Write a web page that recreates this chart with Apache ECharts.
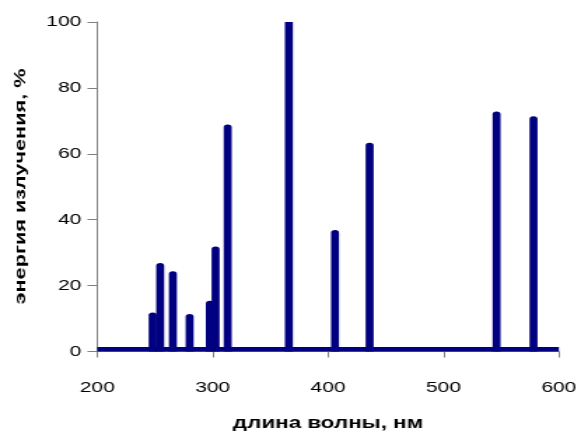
<!DOCTYPE html>
<html>
<head>
<meta charset="utf-8">
<script src="https://cdn.jsdelivr.net/npm/echarts@6/dist/echarts.min.js"></script>
<style>
html,body{margin:0;padding:0;background:#fff;}
#wrap{width:580px;height:432px;overflow:hidden;}
#chart{width:414px;height:432px;transform:scaleX(1.4);transform-origin:0 0;}
</style>
</head>
<body>
<div id="wrap"><div id="chart"></div></div>
<script>
// Wavelengths of spectral lines (nm) and their relative energy (%)
var wavelengths = [248, 254.5, 265.5, 280, 297.5, 302.5, 313, 366, 406, 436, 546, 578];
var energies    = [11, 26, 23.5, 10.5, 14.5, 31, 68, 100, 36, 62.5, 72, 70.5];
var xRange = [200, 600];
var xTicks = [200, 300, 400, 500, 600];
var yTicks = [0, 20, 40, 60, 80, 100];
var xTitle = 'длина волны, нм';
var yTitle = 'энергия излучения, %';

var spikeData = wavelengths.map(function (w, i) { return [w, energies[i]]; });
var baselineData = [[xRange[0], xRange[1]]];

var lineColor = '#000080';
var spikeW = 5.7;
var baseH = 4.5;
var stretch = 1.4;

var chart = echarts.init(document.getElementById('chart'), null, {renderer: 'canvas', width: 414, height: 432});
var axisColor = '#808080';
var font = 'Arial, "Liberation Sans", sans-serif';

function renderSpike(params, api) {
  var cs = params.coordSys;
  var x = api.value(0), v = api.value(1);
  var base = api.coord([x, 0]);
  var top = api.coord([x, v]);
  var r = spikeW / 2;
  var y0 = top[1] - r;
  var rr = [r, r, 0, 0];
  if (y0 < cs.y) { y0 = cs.y; rr = 0; }
  return {
    type: 'rect',
    shape: {x: base[0] - spikeW / 2, y: y0, width: spikeW, height: base[1] - y0, r: rr},
    style: {fill: lineColor}
  };
}
function renderBaseline(params, api) {
  var a = api.coord([api.value(0), 0]);
  var b = api.coord([api.value(1), 0]);
  return {
    type: 'rect',
    shape: {x: a[0], y: a[1] - baseH, width: b[0] - a[0], height: baseH},
    style: {fill: lineColor}
  };
}

chart.setOption({
  animation: false,
  backgroundColor: '#ffffff',
  grid: {left: 69.5, right: 14.8, top: 22, bottom: 80.5, containLabel: false, outerBoundsMode: 'none'},
  graphic: [{
    type: 'text',
    x: 14.6,
    y: 186.5,
    rotation: Math.PI / 2,
    scaleX: stretch,
    scaleY: 1 / stretch,
    style: {
      text: yTitle,
      font: 'bold 15.5px Arial, "Liberation Sans", sans-serif',
      fill: '#000',
      align: 'center',
      verticalAlign: 'middle',
      textAlign: 'center',
      textVerticalAlign: 'middle'
    }
  }],
  xAxis: {
    type: 'value',
    min: xTicks[0], max: xTicks[xTicks.length - 1], interval: 100,
    name: xTitle,
    nameLocation: 'middle',
    nameGap: 64,
    nameTextStyle: {fontFamily: font, fontSize: 16, fontWeight: 'bold', color: '#000'},
    axisLine: {show: true, lineStyle: {color: axisColor, width: 1}},
    axisTick: {show: true, length: 6, lineStyle: {color: axisColor}},
    axisLabel: {fontFamily: font, fontSize: 15, color: '#000', margin: 29},
    splitLine: {show: false}
  },
  yAxis: {
    type: 'value',
    min: yTicks[0], max: yTicks[yTicks.length - 1], interval: 20,
    axisLine: {show: true, lineStyle: {color: axisColor, width: 1}},
    axisTick: {show: true, length: 7, lineStyle: {color: axisColor}},
    axisLabel: {fontFamily: font, fontSize: 15, color: '#000', margin: 11.4},
    splitLine: {show: false}
  },
  series: [{
    type: 'custom',
    renderItem: renderBaseline,
    data: baselineData,
    encode: {x: [0, 1]},
    z: 3
  }, {
    type: 'custom',
    renderItem: renderSpike,
    data: spikeData,
    encode: {x: 0, y: 1},
    z: 4
  }]
});
</script>
</body>
</html>
